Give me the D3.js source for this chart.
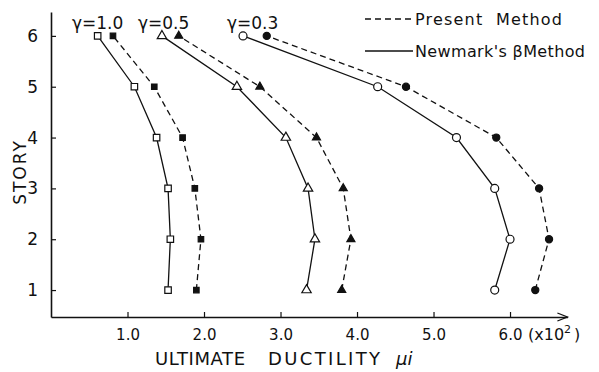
<!DOCTYPE html>
<html>
<head>
<meta charset="utf-8">
<script src="https://cdn.jsdelivr.net/npm/d3@7"></script>
<style>
  html, body { margin: 0; padding: 0; background: #fff; }
  text { font-family: "DejaVu Sans", sans-serif; fill: #111; }
</style>
</head>
<body>
<div id="chart"></div>
<script>
// stories (y) and ultimate ductility (x, in units of 10^2)
const stories = [1, 2, 3, 4, 5, 6];
const xTicks = [1, 2, 3, 4, 5, 6];

const newmark10 = [1.53, 1.56, 1.53, 1.38, 1.09, 0.61];
const present10 = [1.90, 1.96, 1.88, 1.72, 1.35, 0.81];
const newmark05 = [3.34, 3.45, 3.36, 3.07, 2.43, 1.45];
const present05 = [3.80, 3.92, 3.82, 3.47, 2.73, 1.67];
const newmark03 = [5.80, 6.00, 5.80, 5.30, 4.27, 2.51];
const present03 = [6.33, 6.51, 6.38, 5.82, 4.64, 2.82];

const gammaLabels = ['γ=1.0', 'γ=0.5', 'γ=0.3'];
const legendLabels = ['Present  Method', "Newmark's βMethod"];

const width = 599, height = 372;

const svg = d3.select('#chart').append('svg')
  .attr('width', width)
  .attr('height', height);

const x = d3.scaleLinear().domain([0, 6.75]).range([51, 567.4]);
const y = d3.scaleLinear().domain([0.47, 6.47]).range([317, 12]);

// x axis (ticks point up, inside)
const xAxis = svg.append('g')
  .attr('transform', `translate(0,${y(0.47)})`)
  .call(d3.axisBottom(x).tickValues(xTicks).tickFormat(d3.format('.1f'))
    .tickSizeInner(-5).tickSizeOuter(0).tickPadding(12));
xAxis.select('.domain').attr('stroke', '#111').attr('stroke-width', 1.6);
xAxis.selectAll('.tick line').attr('stroke', '#111').attr('stroke-width', 1.2);
xAxis.selectAll('text').attr('font-size', 15).attr('fill', '#111');

// arrowhead on x axis
const ax = x(6.75), ay = y(0.47);
svg.append('path')
  .attr('d', `M${ax - 10},${ay - 4}L${ax},${ay}L${ax - 10},${ay + 4}`)
  .attr('fill', 'none').attr('stroke', '#111').attr('stroke-width', 1.3);

// y axis (ticks point right, inside)
const yAxis = svg.append('g')
  .attr('transform', `translate(${x(0)},0)`)
  .call(d3.axisLeft(y).tickValues(stories).tickFormat(d3.format('d'))
    .tickSizeInner(-5).tickSizeOuter(0).tickPadding(13));
yAxis.select('.domain').attr('stroke', '#111').attr('stroke-width', 1.6);
yAxis.selectAll('.tick line').attr('stroke', '#111').attr('stroke-width', 1.2);
yAxis.selectAll('text').attr('font-size', 17).attr('fill', '#111');

// axis titles
svg.append('text')
  .attr('transform', `translate(26,172) rotate(-90)`)
  .attr('text-anchor', 'middle')
  .attr('font-size', 17)
  .attr('letter-spacing', 2)
  .text('STORY');

svg.append('text')
  .attr('x', 155).attr('y', 365)
  .attr('font-size', 18)
  .attr('textLength', 90).attr('lengthAdjust', 'spacing')
  .text('ULTIMATE');
svg.append('text')
  .attr('x', 268).attr('y', 365)
  .attr('font-size', 18)
  .attr('textLength', 112).attr('lengthAdjust', 'spacing')
  .text('DUCTILITY');
svg.append('text')
  .attr('x', 396).attr('y', 365)
  .attr('font-size', 18)
  .attr('font-style', 'italic')
  .text('μi');

const unit = svg.append('text')
  .attr('x', 528).attr('y', 340)
  .attr('font-size', 16);
unit.append('tspan').text('(x10');
unit.append('tspan').attr('dy', -7).attr('font-size', 11).text('2');
unit.append('tspan').attr('dy', 7).attr('dx', 3).text(')');

// series
const series = [
  { values: newmark10, dashed: false, symbol: d3.symbolSquare, filled: false, size: 42 },
  { values: present10, dashed: true, symbol: d3.symbolSquare, filled: true, size: 30 },
  { values: newmark05, dashed: false, symbol: d3.symbolTriangle, filled: false, size: 38 },
  { values: present05, dashed: true, symbol: d3.symbolTriangle, filled: true, size: 28 },
  { values: newmark03, dashed: false, symbol: d3.symbolCircle, filled: false, size: 50 },
  { values: present03, dashed: true, symbol: d3.symbolCircle, filled: true, size: 40 }
];

const line = d3.line()
  .x(d => x(d[0]))
  .y(d => y(d[1]));

series.forEach(s => {
  const pts = s.values.map((v, i) => [v, stories[i]]);
  svg.append('path')
    .datum(pts)
    .attr('d', line)
    .attr('fill', 'none')
    .attr('stroke', '#111')
    .attr('stroke-width', 1.3)
    .attr('stroke-dasharray', s.dashed ? '6,4' : null);

  svg.selectAll(null)
    .data(pts)
    .enter()
    .append('path')
    .attr('transform', d => `translate(${x(d[0])},${y(d[1])})`)
    .attr('d', d3.symbol().type(s.symbol).size(s.size))
    .attr('fill', s.filled ? '#111' : '#fff')
    .attr('stroke', '#111')
    .attr('stroke-width', 1.2);
});

// gamma labels
const gammaX = [72, 138, 227];
gammaLabels.forEach((t, i) => {
  svg.append('text')
    .attr('x', gammaX[i]).attr('y', 29)
    .attr('font-size', 17)
    .text(t);
});

// legend
const legY = [19, 51];
legendLabels.forEach((t, i) => {
  svg.append('line')
    .attr('x1', 365).attr('x2', 413)
    .attr('y1', legY[i]).attr('y2', legY[i])
    .attr('stroke', '#111').attr('stroke-width', 1.3)
    .attr('stroke-dasharray', i === 0 ? '6,4' : null);
  svg.append('text')
    .attr('x', 415).attr('y', legY[i] + 6)
    .attr('font-size', 16)
    .attr('textLength', i === 0 ? 147 : 170).attr('lengthAdjust', 'spacing')
    .attr('xml:space', 'preserve')
    .text(t);
});
</script>
</body>
</html>
